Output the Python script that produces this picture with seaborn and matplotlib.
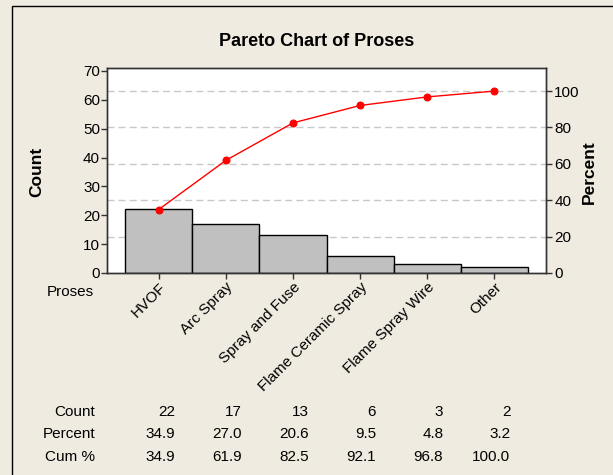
import numpy as np
import pandas as pd
import seaborn as sns
import matplotlib.pyplot as plt
import matplotlib.transforms as mtransforms
from matplotlib.patches import Rectangle

sns.set_theme(style="white")
plt.rcParams['font.family'] = ['Liberation Sans', 'DejaVu Sans']
plt.rcParams['text.color'] = 'black'
plt.rcParams['xtick.color'] = 'black'
plt.rcParams['ytick.color'] = 'black'

# data
categories = ['HVOF', 'Arc Spray', 'Spray and Fuse', 'Flame Ceramic Spray', 'Flame Spray Wire', 'Other']
counts = [22, 17, 13, 6, 3, 2]
percent = [34.9, 27.0, 20.6, 9.5, 4.8, 3.2]
cum_pct = [34.9, 61.9, 82.5, 92.1, 96.8, 100.0]
pct_ticks = [0, 20, 40, 60, 80, 100]

total = sum(counts)
df = pd.DataFrame({'cat': categories, 'count': counts, 'cum': cum_pct})

fs = 11
bg = '#efebe1'
fig = plt.figure(figsize=(6.13, 4.75), dpi=100, facecolor=bg)
ax = fig.add_axes([107 / 613, 1 - 273 / 475, (546 - 107) / 613, (273 - 68) / 475])
ax.set_facecolor('white')

# dashed reference lines at percent levels
for p in pct_ticks[1:]:
    ax.axhline(p * total / 100, color='#c8c8c8', ls=(0, (5, 3)), lw=1, zorder=0)

sns.barplot(data=df, x='cat', y='count', width=1.0, color='#c0c0c0', saturation=1,
            edgecolor='black', linewidth=1, ax=ax, zorder=2)

ax.set_xlim(-0.77, 5.77)
ax.set_ylim(0, 71)
ax.set_yticks(range(0, 71, 10))
ax.set_xlabel('')
ax.set_ylabel('')
ax.tick_params(axis='both', direction='out', length=4, width=1, color='#333333',
               labelsize=fs, pad=1, left=True, bottom=True)
ax.set_xticks(range(len(categories)))
ax.set_xticklabels(categories, rotation=45, ha='right', rotation_mode='anchor', fontsize=fs)
for s in ax.spines.values():
    s.set_color('#333333')
    s.set_linewidth(1)

ax2 = ax.twinx()
sns.lineplot(x=np.arange(len(categories)), y=df['cum'], ax=ax2, color='red', lw=1,
             marker='o', markersize=5, markeredgecolor='red', zorder=5)
ax2.set_ylim(0, 71 / total * 100)
ax2.set_yticks(pct_ticks)
ax2.set_ylabel('')
ax2.tick_params(axis='y', direction='out', length=4, width=1, color='#333333',
                labelsize=fs, pad=2, right=True)
for s in ax2.spines.values():
    s.set_color('#333333')
    s.set_linewidth(1)

fig.text(317 / 613, 1 - 42 / 475, 'Pareto Chart of Proses', ha='center', va='center',
         fontsize=13, fontweight='bold')
fig.text(37 / 613, 1 - 172 / 475, 'Count', rotation=90, ha='center', va='center',
         fontsize=12.5, fontweight='bold')
fig.text(589 / 613, 1 - 172 / 475, 'Percent', rotation=90, ha='center', va='center',
         fontsize=12.5, fontweight='bold')
fig.text(94 / 613, 1 - 292 / 475, 'Proses', ha='right', va='center', fontsize=fs)

# summary table below the chart
trans = mtransforms.blended_transform_factory(ax.transData, fig.transFigure)
rows = [('Count', [str(c) for c in counts]),
        ('Percent', ['%.1f' % p for p in percent]),
        ('Cum %', ['%.1f' % c for c in cum_pct])]
for r, (label, vals) in enumerate(rows):
    y = 1 - (412 + 22.5 * r) / 475
    fig.text(95 / 613, y, label, ha='right', va='center', fontsize=fs)
    for i, v in enumerate(vals):
        ax.text(i + 0.24, y, v, transform=trans, ha='right', va='center', fontsize=fs,
                clip_on=False)

fig.add_artist(Rectangle((12 / 613, -0.1), 1.2, 1 - 6 / 475 + 0.1, transform=fig.transFigure,
                         fill=False, edgecolor='black', lw=1))

fig.savefig('out.png', dpi=100, facecolor=bg)
